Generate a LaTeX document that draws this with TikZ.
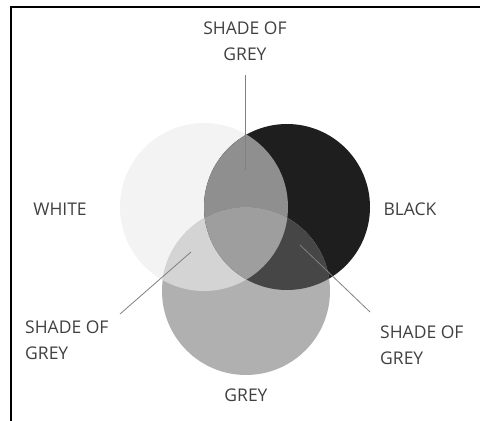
\documentclass[tikz,border=0pt]{standalone}
\usepackage{fontspec}
\setmainfont{Open Sans}
\usepackage{tikz}

\definecolor{txtgrey}{HTML}{404040}
\definecolor{linegrey}{HTML}{808080}
\definecolor{cwhite}{HTML}{F3F3F3}
\definecolor{cblack}{HTML}{1E1E1E}
\definecolor{cgrey}{HTML}{B0B0B0}
\definecolor{cwb}{HTML}{8F8F8F}
\definecolor{cwg}{HTML}{D4D4D4}
\definecolor{cbg}{HTML}{464646}
\definecolor{cwbg}{HTML}{9E9E9E}

\begin{document}
\begin{tikzpicture}[x=1pt, y=-1pt, every node/.style={font=\fontsize{17.5}{26}\selectfont, text=txtgrey, inner sep=0pt},
	lead/.style={draw=linegrey, line width=0.8pt}]
	\useasboundingbox (0,0) rectangle (480,421);
	\draw[line width=2pt] (11,421) -- (11,7) -- (480,7);
	% circles
	\coordinate (W) at (204,207);
	\coordinate (B) at (287,207);
	\coordinate (G) at (246,291);
	\fill[cwhite] (W) circle (84pt);
	\fill[cblack] (B) circle (83pt);
	\fill[cgrey] (G) circle (84pt);
	\begin{scope} \clip (W) circle (84pt); \fill[cwb] (B) circle (83pt); \end{scope}
	\begin{scope} \clip (W) circle (84pt); \fill[cwg] (G) circle (84pt); \end{scope}
	\begin{scope} \clip (B) circle (83pt); \fill[cbg] (G) circle (84pt); \end{scope}
	\begin{scope} \clip (W) circle (84pt); \clip (B) circle (83pt); \fill[cwbg] (G) circle (84pt); \end{scope}
	% labels
	\node[align=center] (top) at (245,41) {SHADE OF\\GREY};
	\node (white) at (60,209) {WHITE};
	\node (black) at (410,209) {BLACK};
	\node (grey) at (246,395) {GREY};
	\node[align=left, anchor=west] (lft) at (25,340) {SHADE OF\\GREY};
	\node[align=left, anchor=west] (rgt) at (380,345) {SHADE OF\\GREY};
	% leaders
	\coordinate (topstart) at (245,75);
	\coordinate (topend) at (245,170);
	\coordinate (lftstart) at (120,314);
	\coordinate (lftend) at (191,252);
	\coordinate (rgtstart) at (370,312);
	\coordinate (rgtend) at (300,245);
	\draw[lead] (topstart) -- (topend);
	\draw[lead] (lftstart) -- (lftend);
	\draw[lead] (rgtstart) -- (rgtend);
\end{tikzpicture}
\end{document}
